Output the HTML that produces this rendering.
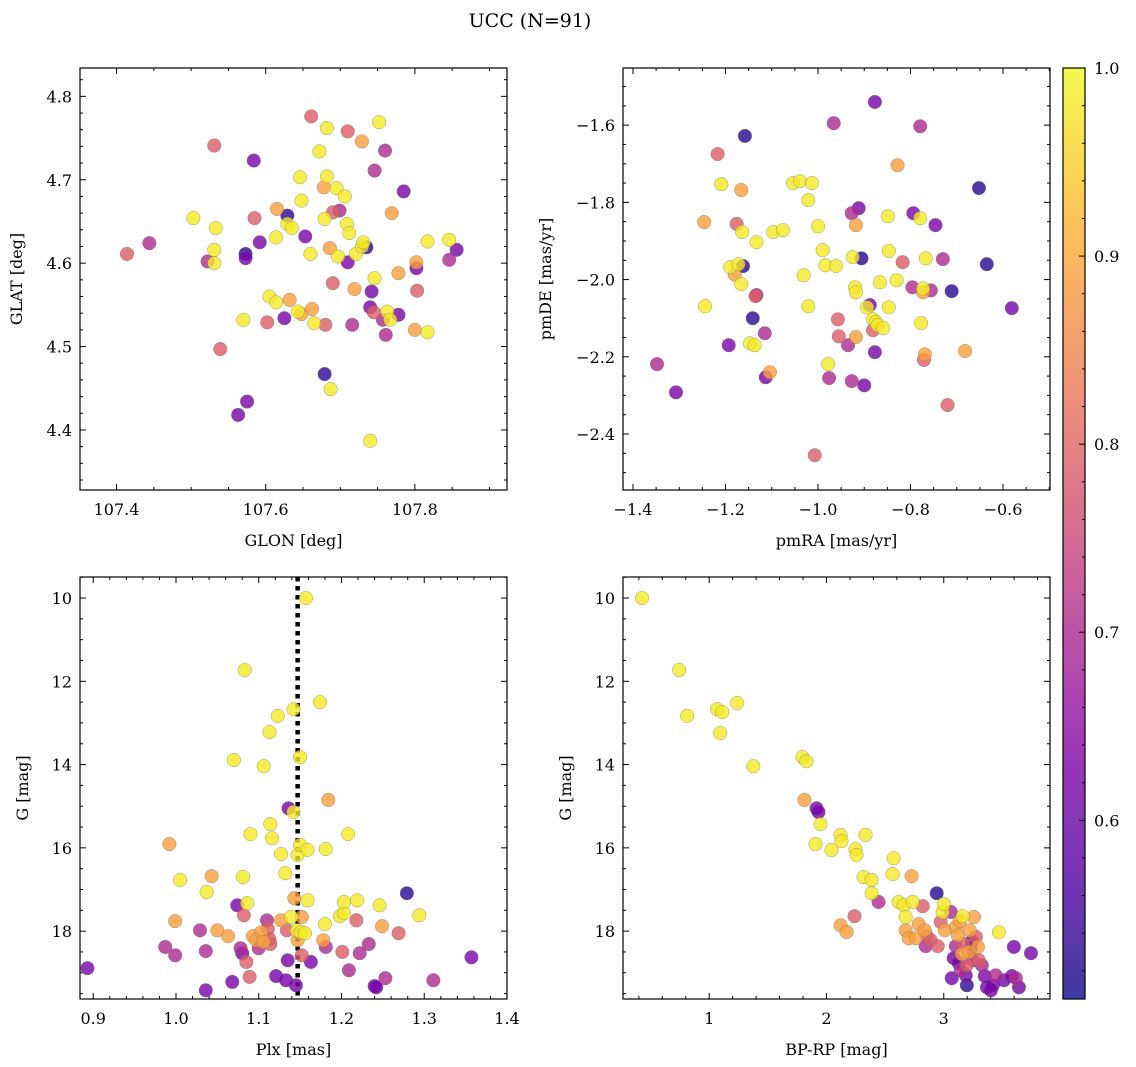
<!DOCTYPE html>
<html><head><meta charset="utf-8">
<style>
html,body{margin:0;padding:0;background:#fff;}
svg{display:block;font-family:"DejaVu Serif","Liberation Serif",serif;}
</style></head>
<body>
<svg id="chart" width="1136" height="1067" viewBox="0 0 1136 1067" xmlns="http://www.w3.org/2000/svg">
<text x="530" y="27" font-size="19" text-anchor="middle">UCC (N=91)</text>
</svg>
<script>
// ---------- Panel 1: GLON / GLAT ----------
const p1Glon=[107.414,107.444,107.503,107.522,107.531,107.533,107.531,107.531,107.539,107.573,107.573,107.584,107.585,107.592,107.570,107.575,107.563,107.602,107.605,107.614,107.614,107.615,107.629,107.629,107.635,107.632,107.625,107.643,107.646,107.648,107.653,107.648,107.661,107.660,107.662,107.665,107.672,107.678,107.682,107.679,107.682,107.686,107.679,107.687,107.690,107.690,107.680,107.695,107.697,107.699,107.706,107.710,107.709,107.710,107.712,107.716,107.719,107.721,107.729,107.729,107.731,107.735,107.740,107.742,107.745,107.746,107.746,107.740,107.752,107.760,107.757,107.761,107.763,107.769,107.767,107.778,107.778,107.785,107.802,107.802,107.803,107.800,107.817,107.817,107.846,107.846,107.856];
const p1Glat=[4.611,4.624,4.654,4.602,4.741,4.642,4.616,4.600,4.497,4.611,4.606,4.723,4.654,4.625,4.532,4.434,4.418,4.529,4.560,4.553,4.631,4.665,4.657,4.647,4.642,4.556,4.534,4.542,4.703,4.675,4.632,4.539,4.776,4.611,4.545,4.528,4.734,4.691,4.762,4.653,4.704,4.618,4.467,4.449,4.661,4.576,4.526,4.690,4.608,4.663,4.680,4.758,4.647,4.601,4.636,4.526,4.569,4.611,4.746,4.620,4.625,4.619,4.547,4.566,4.541,4.711,4.582,4.387,4.769,4.735,4.532,4.514,4.542,4.660,4.532,4.588,4.538,4.686,4.594,4.601,4.567,4.520,4.517,4.626,4.604,4.628,4.616];
const p1Prob=[0.79,0.70,0.98,0.70,0.79,0.98,0.98,0.98,0.79,0.53,0.62,0.62,0.79,0.62,0.98,0.62,0.62,0.79,0.98,0.98,0.98,0.89,0.53,0.98,0.98,0.89,0.62,0.98,0.98,0.98,0.62,0.89,0.79,0.98,0.89,0.98,0.98,0.89,0.98,0.98,0.98,0.89,0.53,0.98,0.79,0.79,0.79,0.98,0.98,0.70,0.98,0.79,0.98,0.62,0.98,0.70,0.89,0.98,0.89,0.98,0.98,0.53,0.62,0.62,0.79,0.70,0.98,0.98,0.98,0.70,0.70,0.70,0.98,0.89,0.98,0.89,0.62,0.62,0.62,0.89,0.79,0.89,0.98,0.98,0.70,0.98,0.62];
// ---------- Panel 2: pmRA / pmDE ----------
const p2Pmra=[-1.348,-1.307,-1.246,-1.244,-1.217,-1.209,-1.193,-1.158,-1.190,-1.176,-1.172,-1.166,-1.166,-1.164,-1.180,-1.162,-1.147,-1.137,-1.141,-1.135,-1.133,-1.115,-1.133,-1.113,-1.104,-1.097,-1.076,-1.054,-1.039,-1.013,-1.021,-1.031,-1.021,-1.000,-1.007,-0.990,-0.978,-0.976,-0.984,-0.966,-0.961,-0.957,-0.955,-0.927,-0.912,-0.925,-0.920,-0.918,-0.918,-0.927,-0.918,-0.935,-0.906,-0.894,-0.888,-0.900,-0.881,-0.881,-0.875,-0.877,-0.877,-0.871,-0.859,-0.866,-0.847,-0.849,-0.847,-0.830,-0.828,-0.817,-0.796,-0.794,-0.779,-0.779,-0.777,-0.773,-0.773,-0.771,-0.769,-0.767,-0.756,-0.746,-0.730,-0.720,-0.711,-0.682,-0.652,-0.635,-0.581];
const p2Pmde=[-2.219,-2.292,-1.851,-2.069,-1.675,-1.753,-2.170,-1.628,-1.968,-1.856,-1.960,-1.768,-2.012,-1.877,-1.987,-1.965,-2.165,-2.170,-2.100,-2.043,-2.040,-2.139,-1.903,-2.253,-2.240,-1.877,-1.872,-1.750,-1.745,-1.750,-1.794,-1.989,-2.069,-1.862,-2.455,-1.924,-2.219,-2.255,-1.963,-1.595,-1.965,-2.103,-2.147,-1.828,-1.815,-1.942,-2.020,-2.033,-1.859,-2.263,-2.149,-2.170,-1.945,-2.072,-2.066,-2.274,-2.103,-2.131,-2.110,-1.540,-2.188,-2.118,-2.126,-2.007,-1.926,-1.836,-2.072,-2.002,-1.704,-1.955,-2.020,-1.828,-1.841,-1.603,-2.113,-2.033,-2.023,-2.208,-2.194,-1.945,-2.028,-1.859,-1.947,-2.325,-2.030,-2.185,-1.763,-1.960,-2.074];
const p2Prob=[0.70,0.62,0.89,0.98,0.79,0.98,0.62,0.53,0.98,0.79,0.98,0.89,0.98,0.98,0.89,0.53,0.98,0.98,0.53,0.79,0.70,0.70,0.98,0.62,0.89,0.98,0.98,0.98,0.98,0.98,0.98,0.98,0.98,0.98,0.79,0.98,0.98,0.70,0.98,0.70,0.98,0.79,0.79,0.70,0.62,0.98,0.98,0.98,0.89,0.70,0.89,0.70,0.53,0.98,0.62,0.62,0.98,0.79,0.98,0.62,0.62,0.98,0.98,0.98,0.98,0.98,0.98,0.98,0.89,0.79,0.70,0.62,0.98,0.70,0.98,0.89,0.98,0.79,0.89,0.98,0.70,0.62,0.70,0.79,0.53,0.89,0.53,0.53,0.62];
// ---------- Panel 3: Plx / G ----------
const p3Plx=[0.893,0.987,0.992,0.999,0.999,1.005,1.029,1.036,1.036,1.037,1.043,1.050,1.063,1.068,1.070,1.074,1.078,1.080,1.081,1.082,1.083,1.085,1.086,1.089,1.090,1.093,1.097,1.100,1.103,1.106,1.106,1.110,1.111,1.113,1.114,1.113,1.114,1.116,1.121,1.123,1.127,1.127,1.132,1.133,1.134,1.135,1.136,1.139,1.143,1.142,1.142,1.145,1.146,1.147,1.147,1.150,1.150,1.151,1.152,1.152,1.156,1.157,1.159,1.159,1.163,1.174,1.178,1.180,1.181,1.181,1.184,1.198,1.201,1.203,1.203,1.208,1.209,1.218,1.219,1.222,1.233,1.240,1.242,1.246,1.249,1.253,1.269,1.279,1.294,1.311,1.357];
const p3G=[18.89,18.38,15.91,18.58,17.76,16.77,17.98,18.48,19.42,17.06,16.68,17.98,18.12,19.22,13.89,17.38,18.41,18.53,16.70,17.62,11.73,18.74,17.33,19.10,15.67,18.12,18.22,18.41,18.03,18.26,14.04,17.74,17.95,18.19,18.31,13.22,15.43,15.77,19.08,12.83,17.74,16.15,16.61,19.18,17.98,18.70,15.05,17.66,17.21,15.14,12.67,19.30,17.98,18.22,16.17,15.93,13.82,18.03,17.66,18.58,18.05,10.00,16.05,17.26,18.74,12.50,18.22,17.83,18.38,16.03,14.85,17.64,18.50,17.57,17.30,15.67,18.94,17.74,17.26,18.53,18.31,19.32,19.35,17.38,17.88,19.13,18.05,17.09,17.62,19.18,18.63];
const p3Prob=[0.62,0.70,0.89,0.70,0.89,0.98,0.70,0.70,0.62,0.98,0.89,0.89,0.89,0.62,0.98,0.62,0.70,0.62,0.98,0.79,0.98,0.79,0.98,0.79,0.98,0.89,0.89,0.70,0.89,0.89,0.98,0.70,0.79,0.79,0.79,0.98,0.98,0.98,0.62,0.98,0.89,0.98,0.98,0.62,0.79,0.62,0.62,0.98,0.89,0.98,0.98,0.62,0.98,0.89,0.98,0.98,0.98,0.98,0.89,0.79,0.98,0.98,0.98,0.98,0.62,0.98,0.89,0.98,0.70,0.98,0.89,0.98,0.79,0.98,0.98,0.98,0.70,0.79,0.98,0.70,0.70,0.62,0.62,0.98,0.89,0.70,0.79,0.53,0.98,0.70,0.62];
const p3PlxRef=1.147;
// ---------- Panel 4: BP-RP / G ----------
const p4Bprp=[0.427,0.744,0.812,1.068,1.094,1.111,1.239,1.376,1.795,1.829,1.812,1.915,1.932,1.949,1.906,2.043,2.120,2.128,2.120,2.171,2.239,2.248,2.256,2.333,2.316,2.385,2.385,2.444,2.573,2.564,2.615,2.658,2.675,2.675,2.701,2.726,2.735,2.761,2.786,2.821,2.838,2.846,2.855,2.889,2.940,2.949,2.974,2.991,3.000,3.009,3.060,3.068,3.085,3.103,3.103,3.120,3.128,3.137,3.145,3.154,3.162,3.171,3.188,3.197,3.197,3.214,3.222,3.231,3.240,3.248,3.257,3.274,3.291,3.299,3.325,3.350,3.368,3.402,3.419,3.444,3.470,3.513,3.581,3.598,3.615,3.641,3.744];
const p4G=[10.00,11.73,12.83,12.67,13.24,12.74,12.52,14.04,13.82,13.92,14.85,15.05,15.14,15.43,15.91,16.05,15.69,15.84,17.86,18.02,17.64,16.03,16.17,15.69,16.70,16.77,17.09,17.30,16.25,16.63,17.30,17.38,17.66,17.98,18.17,16.68,17.30,18.17,17.83,17.40,17.98,18.36,18.12,18.22,17.09,18.36,17.78,17.54,17.35,17.98,17.54,19.13,18.65,18.36,17.90,18.10,18.77,17.76,18.94,18.55,17.64,18.31,19.06,18.82,19.30,18.50,17.98,18.41,18.24,18.70,17.66,18.14,18.38,18.70,18.82,19.08,19.35,19.42,19.30,19.06,18.03,19.18,19.08,18.38,19.13,19.35,18.53];
const p4Prob=[0.98,0.98,0.98,0.98,0.98,0.98,0.98,0.98,0.98,0.98,0.89,0.62,0.62,0.98,0.98,0.98,0.98,0.98,0.89,0.89,0.79,0.98,0.98,0.98,0.98,0.98,0.98,0.70,0.98,0.98,0.98,0.98,0.98,0.89,0.89,0.89,0.98,0.89,0.89,0.79,0.89,0.70,0.79,0.79,0.53,0.79,0.79,0.98,0.98,0.89,0.70,0.62,0.62,0.70,0.89,0.89,0.62,0.89,0.70,0.89,0.98,0.79,0.62,0.79,0.53,0.89,0.89,0.62,0.62,0.70,0.89,0.79,0.89,0.79,0.70,0.62,0.62,0.62,0.62,0.70,0.98,0.62,0.62,0.62,0.70,0.62,0.62];
// ---------- Colorbar ----------
const cbTicks=[0.6,0.7,0.8,0.9,1.0];
const cbMin=0.505, cbMax=1.0;

const NS='http://www.w3.org/2000/svg';
const svg=document.getElementById('chart');
function mk(tag,attrs,parent){const e=document.createElementNS(NS,tag);for(const k in attrs)e.setAttribute(k,attrs[k]);(parent||svg).appendChild(e);return e;}
const stops=[[0,[13,8,135]],[0.125,[84,2,163]],[0.25,[126,3,168]],[0.375,[168,34,150]],[0.5,[204,71,120]],[0.625,[230,108,92]],[0.75,[248,149,64]],[0.875,[253,195,40]],[1,[240,249,33]]];
function plasma(t){t=Math.max(0,Math.min(1,t));for(let i=1;i<stops.length;i++){if(t<=stops[i][0]){const a=stops[i-1],b=stops[i];const f=(t-a[0])/(b[0]-a[0]);return 'rgb('+a[1].map((c,j)=>Math.round(c+(b[1][j]-c)*f)).join(',')+')';}}return 'rgb(240,249,33)';}
function cmap(v){return plasma((v-cbMin)/(cbMax-cbMin));}

function fmt(v,dec){const s=Math.abs(v).toFixed(dec);return (v<-1e-9?'\u2212':'')+s;}

function panel(cfg){
  const g=mk('g',{});
  
  
  const xs=v=>cfg.x0+(v-cfg.xmin)/(cfg.xmax-cfg.xmin)*cfg.w;
  const ys=v=>cfg.y0+(v-cfg.yTop)/(cfg.yBot-cfg.yTop)*cfg.h;
  const r=mk('rect',{x:cfg.x0,y:cfg.y0,width:cfg.w,height:cfg.h,fill:'none',stroke:'#000','stroke-width':1.2},g);
  
  
  const eps=1e-6;
  for(let k=Math.ceil(cfg.xmin/cfg.xMinor-eps); k*cfg.xMinor<=cfg.xmax+eps; k++){
    const v=k*cfg.xMinor;
    const px=xs(v);const isMaj=Math.abs(v/cfg.xMajor-Math.round(v/cfg.xMajor))<1e-6;const L=isMaj?6:3;
    mk('line',{x1:px,x2:px,y1:cfg.y0+cfg.h,y2:cfg.y0+cfg.h-L,stroke:'#000','stroke-width':1},g);
    mk('line',{x1:px,x2:px,y1:cfg.y0,y2:cfg.y0+L,stroke:'#000','stroke-width':1},g);
    if(isMaj){const t=mk('text',{x:px,y:cfg.y0+cfg.h+25,'font-size':16,'text-anchor':'middle'},g);t.textContent=fmt(Math.round(v/cfg.xMajor)*cfg.xMajor,cfg.xDec);
      }
  }
  const ylo=Math.min(cfg.yTop,cfg.yBot),yhi=Math.max(cfg.yTop,cfg.yBot);
  for(let k=Math.ceil(ylo/cfg.yMinor-eps); k*cfg.yMinor<=yhi+eps; k++){
    const v=k*cfg.yMinor;
    const py=ys(v);const isMaj=Math.abs(v/cfg.yMajor-Math.round(v/cfg.yMajor))<1e-6;const L=isMaj?6:3;
    mk('line',{x1:cfg.x0,x2:cfg.x0+L,y1:py,y2:py,stroke:'#000','stroke-width':1},g);
    mk('line',{x1:cfg.x0+cfg.w,x2:cfg.x0+cfg.w-L,y1:py,y2:py,stroke:'#000','stroke-width':1},g);
    if(isMaj){const t=mk('text',{x:cfg.x0-8,y:py+6,'font-size':16,'text-anchor':'end'},g);t.textContent=fmt(Math.round(v/cfg.yMajor)*cfg.yMajor,cfg.yDec);
      }
  }
  const xl=mk('text',{x:cfg.x0+cfg.w/2,y:cfg.y0+cfg.h+56,'font-size':16,'text-anchor':'middle'},g);xl.textContent=cfg.xlabel;
  
  const yx=cfg.ylabX, yy=cfg.y0+cfg.h/2;
  const yl=mk('text',{x:yx,y:yy,'font-size':16,'text-anchor':'middle',transform:'rotate(-90 '+yx+' '+yy+')'},g);yl.textContent=cfg.ylabel;
  
  if(cfg.vline!==undefined){const l=mk('line',{x1:xs(cfg.vline),x2:xs(cfg.vline),y1:cfg.y0,y2:cfg.y0+cfg.h,stroke:'#000','stroke-width':4.5,'stroke-dasharray':'4.5 4.5'},g);
    }
  const clip=mk('clipPath',{id:'clip-'+cfg.name},svg);mk('rect',{x:cfg.x0,y:cfg.y0,width:cfg.w,height:cfg.h},clip);
  const pg=mk('g',{'clip-path':'url(#clip-'+cfg.name+')'},g);
  const order=cfg.p.map((p,i)=>i).sort((a,b)=>cfg.p[a]-cfg.p[b]);
  for(const i of order){
    const c=mk('circle',{cx:xs(cfg.xd[i]),cy:ys(cfg.yd[i]),r:6.8,fill:cmap(cfg.p[i]),'fill-opacity':0.8,stroke:'#666','stroke-opacity':0.6,'stroke-width':0.5},pg);
    
    
  }
}
panel({name:'glon-glat-panel',x0:80,y0:68,w:427,h:422,xmin:107.351,xmax:107.9235,yTop:4.834,yBot:4.328,xMajor:0.2,xMinor:0.05,yMajor:0.1,yMinor:0.02,xDec:1,yDec:1,xlabel:'GLON [deg]',ylabel:'GLAT [deg]',ylabX:22,xd:p1Glon,yd:p1Glat,p:p1Prob});
panel({name:'pm-panel',x0:623,y0:68,w:427,h:422,xmin:-1.4216,xmax:-0.4984,yTop:-1.452,yBot:-2.545,xMajor:0.2,xMinor:0.05,yMajor:0.2,yMinor:0.05,xDec:1,yDec:1,xlabel:'pmRA [mas/yr]',ylabel:'pmDE [mas/yr]',ylabX:551,xd:p2Pmra,yd:p2Pmde,p:p2Prob});
panel({name:'plx-g-panel',x0:80,y0:577,w:427,h:422,xmin:0.884,xmax:1.4,yTop:9.495,yBot:19.63,xMajor:0.1,xMinor:0.02,yMajor:2,yMinor:0.5,xDec:1,yDec:0,xlabel:'Plx [mas]',ylabel:'G [mag]',ylabX:28,xd:p3Plx,yd:p3G,p:p3Prob,vline:p3PlxRef});
panel({name:'cmd-panel',x0:623,y0:577,w:427,h:422,xmin:0.265,xmax:3.906,yTop:9.495,yBot:19.63,xMajor:1,xMinor:0.2,yMajor:2,yMinor:0.5,xDec:0,yDec:0,xlabel:'BP-RP [mag]',ylabel:'G [mag]',ylabX:571,xd:p4Bprp,yd:p4G,p:p4Prob});

(function(){
  const x0=1063,y0=68,w=22,h=931;
  const g=mk('g',{});
  
  
  const defs=mk('defs',{},g);
  const lg=mk('linearGradient',{id:'cbgrad',x1:0,y1:1,x2:0,y2:0},defs);
  for(let i=0;i<=20;i++){mk('stop',{offset:(i/20),'stop-color':plasma(i/20)},lg);}
  mk('rect',{x:x0,y:y0,width:w,height:h,fill:'url(#cbgrad)','fill-opacity':0.8},g);
  mk('rect',{x:x0,y:y0,width:w,height:h,fill:'none',stroke:'#000','stroke-width':1.2},g);
  const ys=v=>y0+h-(v-cbMin)/(cbMax-cbMin)*h;
  for(let k=Math.ceil(cbMin/0.02);k*0.02<=cbMax+1e-9;k++){const v=k*0.02;const py=ys(v);
    const maj=cbTicks.some(t=>Math.abs(t-v)<1e-6);
    mk('line',{x1:x0+w,x2:x0+w-(maj?6:3),y1:py,y2:py,stroke:'#000','stroke-width':1},g);}
  for(const t of cbTicks){const tx=mk('text',{x:x0+w+9,y:ys(t)+6,'font-size':16},g);tx.textContent=t.toFixed(1);
    }
})();
</script>
</body></html>
